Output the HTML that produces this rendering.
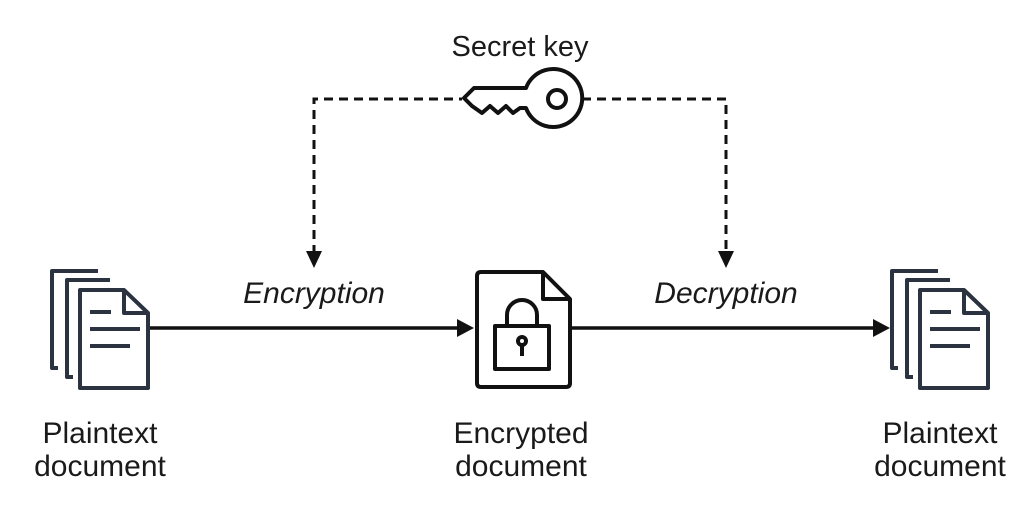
<!DOCTYPE html>
<html><head><meta charset="utf-8"><style>
html,body{margin:0;padding:0;background:#fff;}
body{width:1024px;height:505px;overflow:hidden;}
svg text{font-family:"Liberation Sans",sans-serif;fill:#1a1a1a;}
</style></head><body>
<svg width="1024" height="505" viewBox="0 0 1024 505">
<defs>
<g id="docs" fill="none" stroke="#2b3340" stroke-width="4" stroke-linecap="butt" stroke-linejoin="round">
<polyline points="98,271 52,271 52,368 58,368"/>
<polyline points="110,280 67,280 67,377 73,377"/>
<path d="M80,290 H124 L148,313 V388 H80 Z"/>
<path d="M124,290 V313 H148"/>
<line x1="90" y1="312" x2="111" y2="312"/>
<line x1="90" y1="329" x2="140" y2="329"/>
<line x1="90" y1="346" x2="130" y2="346"/>
</g>
</defs>
<use href="#docs"/>
<use href="#docs" x="840"/>
<g fill="none" stroke="#111" stroke-width="4" stroke-linejoin="round">
<path d="M481,272 H543 L570,299 V383 Q570,387 566,387 H481 Q477,387 477,383 V276 Q477,272 481,272 Z"/>
<path d="M543,272 V299 H570"/>
<rect x="495" y="326" width="54" height="43"/>
<path d="M507,326 V315 A15,15 0 0 1 537,315 V326"/>
<circle cx="522" cy="341" r="4"/>
<line x1="522" y1="345" x2="522" y2="356"/>
</g>
<g stroke="#111" stroke-width="3.5">
<line x1="150" y1="328" x2="458" y2="328"/>
<line x1="572" y1="328" x2="874" y2="328"/>
</g>
<polygon points="474,328 457,319 457,337" fill="#111"/>
<polygon points="890,328 873,319 873,337" fill="#111"/>
<g fill="none" stroke="#111" stroke-width="3" stroke-dasharray="9,6">
<polyline points="314,254 314,99 462,99"/>
<polyline points="582,99 726,99 726,254"/>
</g>
<polygon points="314,268 306,251 322,251" fill="#111"/>
<polygon points="726,268 718,251 734,251" fill="#111"/>
<g fill="#fff" stroke="#111" stroke-width="4" stroke-linejoin="round">
<path d="M526,88 H474 L464,98 L472,106 L482,113 L490,106 L498,113 L506,106 L513,113 L520,108 H526 A29,29 0 1 0 526,88 Z"/>
<circle cx="557" cy="99" r="9"/>
</g>
<text x="520" y="56" font-size="29" text-anchor="middle">Secret key</text>
<text x="314" y="303" font-size="30" font-style="italic" text-anchor="middle">Encryption</text>
<text x="726" y="303" font-size="30" font-style="italic" text-anchor="middle">Decryption</text>
<g font-size="30" text-anchor="middle">
<text x="100" y="443">Plaintext</text><text x="100" y="476">document</text>
<text x="521" y="443">Encrypted</text><text x="521" y="476">document</text>
<text x="940" y="443">Plaintext</text><text x="940" y="476">document</text>
</g>
</svg>
</body></html>
